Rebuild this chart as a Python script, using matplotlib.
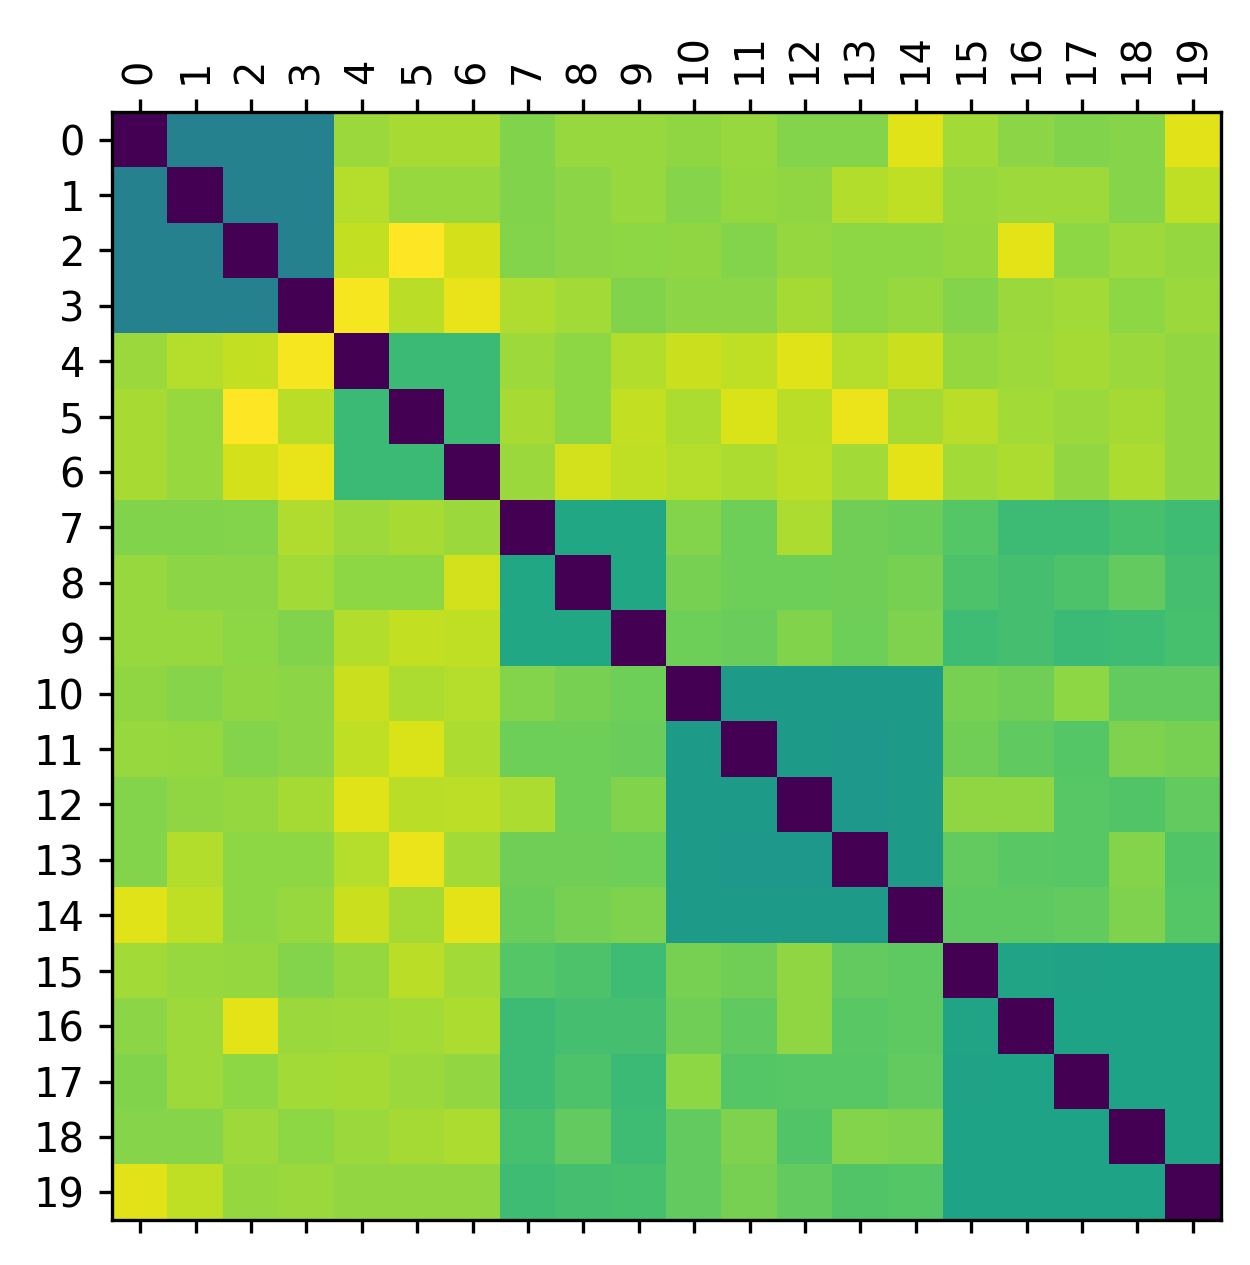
import numpy as np
import matplotlib
matplotlib.use("Agg")
import matplotlib.pyplot as plt

# pairwise distances between the 20 items (symmetric, zero on the diagonal)
labels = [str(i) for i in range(20)]

row_0 = [0, .44, .44, .44, .85, .87, .87, .81, .845, .845, .835, .845, .815, .815, .95, .86, .825, .81, .82, .955]
row_1 = [.44, 0, .44, .44, .89, .845, .845, .81, .825, .845, .82, .84, .835, .885, .905, .845, .855, .855, .82, .905]
row_2 = [.44, .44, 0, .44, .91, 1.0, .935, .815, .825, .83, .835, .815, .84, .83, .83, .84, .96, .83, .855, .84]
row_3 = [.44, .44, .44, 0, .985, .895, .965, .88, .86, .81, .825, .825, .865, .83, .845, .815, .85, .862, .83, .85]
row_4 = [.85, .89, .91, .985, 0, .68, .68, .855, .83, .885, .92, .905, .95, .89, .92, .84, .855, .865, .85, .837]
row_5 = [.87, .845, 1.0, .895, .68, 0, .68, .87, .83, .91, .875, .945, .895, .97, .865, .895, .86, .85, .865, .837]
row_6 = [.87, .845, .935, .965, .68, .68, 0, .85, .93, .905, .89, .875, .9, .86, .96, .86, .875, .837, .875, .837]
row_7 = [.81, .81, .815, .88, .855, .87, .85, 0, .6, .6, .815, .78, .875, .785, .775, .735, .685, .685, .71, .69]
row_8 = [.845, .825, .825, .86, .83, .83, .93, .6, 0, .6, .795, .78, .78, .785, .795, .72, .705, .72, .76, .705]
row_9 = [.845, .845, .83, .81, .885, .91, .905, .6, .6, 0, .78, .77, .81, .78, .805, .69, .705, .68, .69, .71]
row_10 = [.835, .82, .835, .825, .92, .875, .89, .815, .795, .78, 0, .545, .545, .545, .545, .795, .785, .83, .76, .76]
row_11 = [.845, .84, .815, .825, .905, .945, .875, .78, .78, .77, .545, 0, .545, .535, .545, .785, .755, .735, .805, .795]
row_12 = [.815, .835, .84, .865, .95, .895, .9, .875, .78, .81, .545, .545, 0, .535, .545, .835, .835, .74, .73, .76]
row_13 = [.815, .885, .83, .83, .89, .97, .86, .785, .785, .78, .545, .535, .535, 0, .545, .76, .745, .74, .815, .73]
row_14 = [.95, .905, .83, .845, .92, .865, .96, .775, .795, .805, .545, .545, .545, .545, 0, .75, .75, .76, .805, .735]
row_15 = [.86, .845, .84, .815, .84, .895, .86, .735, .72, .69, .795, .785, .835, .76, .75, 0, .585, .575, .58, .58]
row_16 = [.825, .855, .96, .85, .855, .86, .875, .685, .705, .705, .785, .755, .835, .745, .75, .585, 0, .58, .58, .58]
row_17 = [.81, .855, .83, .862, .865, .85, .837, .685, .72, .68, .83, .735, .74, .74, .76, .575, .58, 0, .58, .58]
row_18 = [.82, .82, .855, .83, .85, .865, .875, .71, .76, .69, .76, .805, .73, .815, .805, .58, .58, .58, 0, .58]
row_19 = [.955, .905, .84, .85, .837, .837, .837, .69, .705, .71, .76, .795, .76, .73, .735, .58, .58, .58, .58, 0]

dist = np.array([row_0, row_1, row_2, row_3, row_4, row_5, row_6, row_7, row_8, row_9,
                 row_10, row_11, row_12, row_13, row_14, row_15, row_16, row_17, row_18, row_19])

plt.rcParams['font.size'] = 9.6
plt.rcParams['xtick.major.size'] = 3.2
plt.rcParams['ytick.major.size'] = 3.2

fig = plt.figure(figsize=(1250 / 300, 1265 / 300), dpi=300)
ax = fig.add_axes([112 / 1250, 45 / 1265, 1109 / 1250, 1108 / 1265])

ax.matshow(dist, cmap='viridis', vmin=0, vmax=dist.max())
ax.set_xticks(range(len(labels)))
ax.set_xticklabels(labels, rotation=90)
ax.set_yticks(range(len(labels)))
ax.set_yticklabels(labels)

fig.savefig('out.png', dpi=300)
